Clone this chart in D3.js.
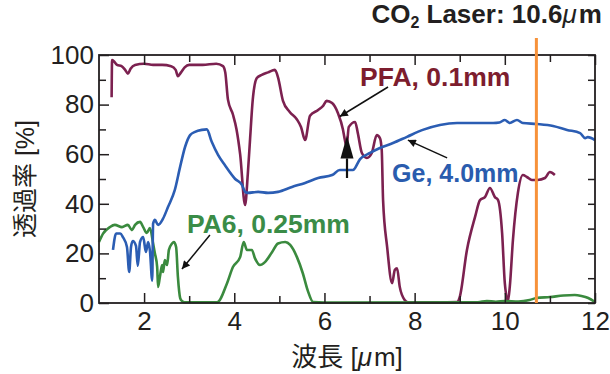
<!DOCTYPE html>
<html>
<head>
<meta charset="utf-8">
<script src="https://cdn.jsdelivr.net/npm/d3@7"></script>
<style>
  body { margin: 0; background: #fff; }
  svg { display: block; }
</style>
</head>
<body>
<div id="chart"></div>
<script>
// transmission spectra [wavelength um, transmittance %]
const pfa = [
  [1.28, 83], [1.29, 98], [1.33, 97.5], [1.40, 96], [1.50, 95.5], [1.58, 94], [1.64, 92.5],
  [1.70, 94.5], [1.80, 96], [2.0, 96.5], [2.2, 96], [2.4, 96], [2.6, 95.5], [2.70, 94],
  [2.75, 91.5], [2.82, 93], [2.9, 95], [3.0, 96], [3.3, 96], [3.6, 96.5], [3.75, 95.5],
  [3.80, 93], [3.86, 82], [3.97, 76], [4.05, 70], [4.13, 60], [4.24, 39.5], [4.30, 52],
  [4.35, 66], [4.41, 82], [4.50, 90.7], [4.61, 92], [4.75, 93], [4.90, 94], [4.97, 91],
  [5.08, 81.5], [5.23, 77], [5.39, 74], [5.48, 71], [5.57, 65.7], [5.68, 75.5], [5.86, 77.8],
  [5.97, 79.5], [6.05, 81.5], [6.17, 80.6], [6.30, 76.5], [6.41, 70], [6.45, 66], [6.49, 63],
  [6.54, 71], [6.68, 73], [6.74, 68.5], [6.83, 60.5], [6.94, 58.5], [7.05, 60.5], [7.16, 67.7],
  [7.23, 66.5], [7.27, 61.7], [7.30, 41.5], [7.39, 22.6], [7.50, 8], [7.56, 13.3], [7.61, 14],
  [7.67, 6.5], [7.78, 1.2], [7.85, 0.3], [8.5, 0.3], [8.94, 0.4], [9.0, 2.4], [9.16, 21.4],
  [9.34, 34.7], [9.45, 41.5], [9.56, 42.7], [9.67, 46.4], [9.78, 42.7], [9.85, 41.5],
  [9.94, 28.2], [10.0, 8], [10.07, 0.8], [10.11, 6.5], [10.18, 25.4], [10.29, 44.4],
  [10.40, 51.6], [10.49, 50.8], [10.60, 49.6], [10.73, 49.6], [10.89, 50.4], [11.0, 52.8],
  [11.11, 51.6]
];

const ge = [
  [1.31, 21.4], [1.38, 28], [1.47, 28], [1.53, 26.6], [1.62, 22.6], [1.67, 12.5], [1.71, 22.6],
  [1.75, 25], [1.82, 23], [1.86, 15], [1.91, 24.6], [1.98, 26.6], [2.04, 20.6], [2.09, 24.6],
  [2.13, 21], [2.18, 9], [2.20, 32], [2.24, 33.5], [2.31, 31.5], [2.42, 34], [2.53, 38.7],
  [2.68, 45.5], [2.80, 55], [2.91, 63], [3.02, 67.7], [3.13, 69], [3.28, 69.8], [3.39, 70],
  [3.50, 65], [3.64, 59.7], [3.79, 55.6], [4.02, 50], [4.17, 47.6], [4.24, 44.8], [4.30, 44.4],
  [4.53, 44.8], [4.75, 44.4], [4.97, 44.8], [5.28, 46.8], [5.57, 48.4], [5.86, 50.4],
  [6.17, 51.6], [6.34, 53.6], [6.63, 53.6], [6.79, 58], [7.01, 60.5], [7.23, 62.5],
  [7.52, 64.5], [7.83, 67], [8.18, 69.8], [8.56, 71.8], [8.94, 72.6], [9.38, 72.6],
  [9.74, 72.6], [9.88, 72.8], [10.0, 73.8], [10.11, 72.6], [10.27, 73.8], [10.40, 72.6],
  [10.71, 72.2], [11.07, 71.4], [11.38, 69.8], [11.67, 68.5], [11.78, 66.5], [11.84, 66.9],
  [12.0, 65.7]
];

const pa6 = [
  [1.0, 24.6], [1.09, 28], [1.24, 30.6], [1.35, 31.5], [1.51, 30.6], [1.64, 31.5], [1.73, 29.4],
  [1.80, 31.5], [1.91, 32.7], [1.98, 30.6], [2.06, 28.2], [2.13, 30.2], [2.20, 24], [2.24, 20],
  [2.29, 14.5], [2.31, 6.5], [2.35, 10.5], [2.40, 15.3], [2.42, 12.5], [2.46, 17.3],
  [2.51, 15.3], [2.55, 21.4], [2.62, 24], [2.66, 24.6], [2.71, 22.6], [2.75, 10.5], [2.80, 2],
  [2.84, 0.8], [2.9, 0.3], [3.62, 0.3], [3.84, 8], [3.97, 14.5], [4.13, 18.5], [4.21, 24.6],
  [4.28, 21.4], [4.39, 21.4], [4.46, 18], [4.57, 15.3], [4.68, 16.5], [4.84, 20.6], [4.97, 24],
  [5.13, 24.6], [5.24, 23.4], [5.39, 18.5], [5.52, 12], [5.63, 5], [5.75, 0.4], [6.0, 0.2],
  [9.4, 0.3], [9.6, 0.8], [9.8, 0.5], [10.0, 0.8], [10.3, 0.6], [10.55, 1.2], [10.7, 2],
  [11.0, 2.4], [11.3, 3], [11.55, 3.2], [11.7, 2.8], [11.85, 2], [12.0, 0.4]
];

const laserX = 10.7;

const xMajor = [2, 4, 6, 8, 10, 12];
const xMinor = [3, 5, 7, 9, 11];
const yMajor = [0, 20, 40, 60, 80, 100];
const yMinor = [10, 30, 50, 70, 90];

// labels & arrows in data coords
const labels = [
  { text: 'PFA, 0.1mm', x: 6.79, y: 87.3, color: '#7d1d2e', size: 26.5 },
  { text: 'Ge, 4.0mm', x: 7.50, y: 48.8, color: '#2a5cae', size: 25 },
  { text: 'PA6, 0.25mm', x: 2.95, y: 28.2, color: '#3a8c47', size: 26.5 }
];
const arrows = [
  { from: [7.41, 87.1], to: [6.34, 75.2] },
  { from: [8.72, 58.5], to: [7.85, 65.7] },
  { from: [3.46, 27.4], to: [2.84, 13.7] }
];
const bigArrow = { x: 6.5, tip: 67.5, base: 58.3, bottom: 50.4 };

const W = 610, H = 374;
const margin = { top: 55, right: 15, bottom: 71, left: 99 };

const svg = d3.select('#chart').append('svg')
  .attr('width', W).attr('height', H)
  .style('font-family', '"Liberation Sans", Arial, "Noto Sans CJK JP", sans-serif');

const x = d3.scaleLinear().domain([1, 12]).range([margin.left, W - margin.right]);
const y = d3.scaleLinear().domain([0, 100]).range([H - margin.bottom, margin.top]);

svg.append('defs').append('marker')
  .attr('id', 'head')
  .attr('viewBox', '0 0 10 10')
  .attr('refX', 10).attr('refY', 5)
  .attr('markerWidth', 11).attr('markerHeight', 8)
  .attr('markerUnits', 'userSpaceOnUse')
  .attr('orient', 'auto')
  .append('path').attr('d', 'M0,0L10,5L0,10z').attr('fill', '#111');

const line = d3.line()
  .x(d => x(d[0]))
  .y(d => y(d[1]))
  .curve(d3.curveMonotoneX);

svg.append('path').datum(pfa)
  .attr('d', line).attr('fill', 'none')
  .attr('stroke', '#7c2150').attr('stroke-width', 2.6).attr('stroke-linejoin', 'round');
svg.append('path').datum(pa6)
  .attr('d', line).attr('fill', 'none')
  .attr('stroke', '#3a8a3e').attr('stroke-width', 2.6).attr('stroke-linejoin', 'round');
svg.append('path').datum(ge)
  .attr('d', line).attr('fill', 'none')
  .attr('stroke', '#2b5db3').attr('stroke-width', 2.6).attr('stroke-linejoin', 'round');

// axes, ticks pointing in
function styleAxis(g) {
  g.select('.domain').remove();
  g.selectAll('line').attr('stroke', '#231f20').attr('stroke-width', 1.5);
  g.selectAll('text').attr('font-size', 26).attr('fill', '#231f20')
    .attr('font-family', '"Liberation Sans", Arial, sans-serif');
}
const bottomY = y(0), topY = y(100), leftX = x(1), rightX = x(12);

svg.append('g').attr('transform', `translate(0,${bottomY})`)
  .call(d3.axisBottom(x).tickValues(xMajor).tickSize(-10).tickPadding(9).tickFormat(d3.format('d')))
  .call(styleAxis);
svg.append('g').attr('transform', `translate(0,${bottomY})`)
  .call(d3.axisBottom(x).tickValues(xMinor).tickSize(-7).tickFormat(''))
  .call(styleAxis);
svg.append('g').attr('transform', `translate(0,${topY})`)
  .call(d3.axisTop(x).tickValues(xMajor).tickSize(-10).tickFormat(''))
  .call(styleAxis);
svg.append('g').attr('transform', `translate(0,${topY})`)
  .call(d3.axisTop(x).tickValues(xMinor).tickSize(-7).tickFormat(''))
  .call(styleAxis);
svg.append('g').attr('transform', `translate(${leftX},0)`)
  .call(d3.axisLeft(y).tickValues(yMajor).tickSize(-10).tickPadding(5).tickFormat(d3.format('d')))
  .call(styleAxis);
svg.append('g').attr('transform', `translate(${leftX},0)`)
  .call(d3.axisLeft(y).tickValues(yMinor).tickSize(-7).tickFormat(''))
  .call(styleAxis);
svg.append('g').attr('transform', `translate(${rightX},0)`)
  .call(d3.axisRight(y).tickValues(yMajor.concat(yMinor)).tickSize(-7).tickFormat(''))
  .call(styleAxis);

svg.append('rect')
  .attr('x', leftX).attr('y', topY)
  .attr('width', rightX - leftX).attr('height', bottomY - topY)
  .attr('fill', 'none').attr('stroke', '#231f20').attr('stroke-width', 1.8);

// axis titles
svg.append('text')
  .attr('transform', `translate(25,${(topY + bottomY) / 2}) rotate(-90)`)
  .attr('text-anchor', 'middle').attr('dominant-baseline', 'central')
  .attr('font-size', 25).attr('fill', '#231f20')
  .text('透過率 [%]');

const xt = svg.append('text')
  .attr('x', (leftX + rightX) / 2).attr('y', 366)
  .attr('text-anchor', 'middle')
  .attr('font-size', 26).attr('fill', '#231f20');
xt.append('tspan').text('波長 [');
xt.append('tspan').attr('font-style', 'italic').text('μ');
xt.append('tspan').attr('dx', 2).text('m]');

// series labels
svg.selectAll('.lab').data(labels).enter().append('text')
  .attr('class', 'lab')
  .attr('x', d => x(d.x)).attr('y', d => y(d.y))
  .attr('font-size', d => d.size).attr('font-weight', 'bold')
  .attr('fill', d => d.color)
  .text(d => d.text);

svg.selectAll('.arr').data(arrows).enter().append('line')
  .attr('class', 'arr')
  .attr('x1', d => x(d.from[0])).attr('y1', d => y(d.from[1]))
  .attr('x2', d => x(d.to[0])).attr('y2', d => y(d.to[1]))
  .attr('stroke', '#111').attr('stroke-width', 1.5)
  .attr('marker-end', 'url(#head)');

// big up arrow
const bx = x(bigArrow.x);
svg.append('line')
  .attr('x1', bx).attr('x2', bx)
  .attr('y1', y(bigArrow.bottom)).attr('y2', y(bigArrow.base))
  .attr('stroke', '#111').attr('stroke-width', 2.2);
svg.append('path')
  .attr('d', `M${bx},${y(bigArrow.tip)}L${bx + 6.5},${y(bigArrow.base)}L${bx - 6.5},${y(bigArrow.base)}Z`)
  .attr('fill', '#111');

// CO2 laser line
const lx = x(laserX);
svg.append('line')
  .attr('x1', lx).attr('x2', lx)
  .attr('y1', 38).attr('y2', bottomY)
  .attr('stroke', '#f7923a').attr('stroke-width', 3);

const co2 = svg.append('text')
  .attr('x', lx - 165).attr('y', 23)
  .attr('font-size', 26).attr('font-weight', 'bold').attr('fill', '#231f20');
co2.append('tspan').text('CO');
co2.append('tspan').attr('font-size', 16).attr('dy', 5).text('2');
co2.append('tspan').attr('dy', -5).text(' Laser: 10.6');
co2.append('tspan').attr('font-style', 'italic').attr('font-weight', 'normal').text('μ');
co2.append('tspan').attr('dx', 2).text('m');
</script>
</body>
</html>
